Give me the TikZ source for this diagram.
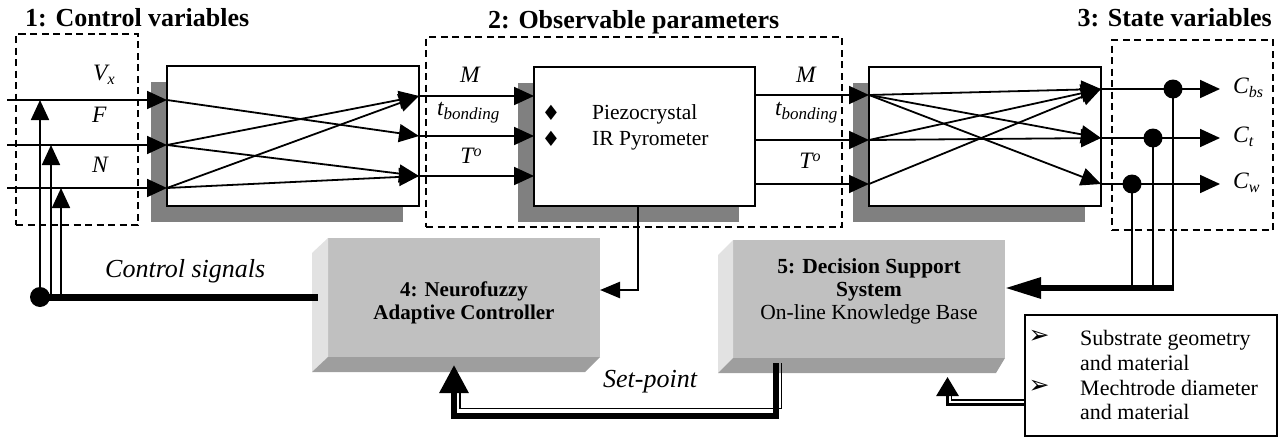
\documentclass[tikz,border=0pt]{standalone}
\usepackage{fontspec}
\setmainfont{Liberation Serif}
\newfontfamily\dejavu{DejaVu Sans}
\usetikzlibrary{arrows.meta,calc,shadows}
\definecolor{shadowgray}{RGB}{128,128,128}
\definecolor{frontgray}{RGB}{192,192,192}
\definecolor{leftgray}{RGB}{226,226,226}
\definecolor{bottomgray}{RGB}{158,158,158}
\newcommand{\fs}[1]{\fontsize{#1}{#1}\selectfont}
\newcommand{\sbs}[1]{\raisebox{-4pt}{\fs{16}\itshape #1}}
\begin{document}
\begin{tikzpicture}[x=1pt,y=-1pt,
  blk/.style={draw, line width=2pt, fill=white, inner sep=0pt, outer sep=0pt,
     general shadow={fill=shadowgray, shadow xshift=-16pt, shadow yshift=-16pt}},
  dbox/.style={draw, line width=1.8pt, dash pattern=on 7pt off 4.5pt, inner sep=0pt, outer sep=0pt},
  sig/.style={line width=1.8pt, -{Triangle[length=20pt,width=18pt]}},
  wire/.style={line width=1.8pt},
  front/.style={fill=frontgray, inner sep=0pt, outer sep=0pt},
  dot/.style={circle, fill=black, inner sep=0pt, minimum size=19pt},
  ttl/.style={font=\fs{26}\bfseries, inner sep=0pt, anchor=base west},
  lab/.style={font=\fs{23.5}\itshape, inner sep=0pt, anchor=base west},
  txt/.style={font=\fs{21.5}, inner sep=0pt, anchor=base west},
  itl/.style={font=\fs{26}\itshape, inner sep=0pt, anchor=base west},
  dia/.style={font=\dejavu\fs{21}, inner sep=0pt},
  bul/.style={font=\dejavu\fs{25}, inner sep=0pt},
]
\useasboundingbox (0,0) rectangle (1286,439);

% titles
\node[ttl] (t1) at (25,27) {1: Control variables};
\node[ttl] (t2) at (488,28) {2: Observable parameters};
\node[ttl, anchor=base east] (t3) at (1272,27) {3: State variables};

% dashed groups
\node[dbox, minimum width=122pt, minimum height=191pt] (g1) at (77,129.5) {};
\node[dbox, minimum width=416pt, minimum height=190pt] (g2) at (634,132) {};
\node[dbox, minimum width=161pt, minimum height=190pt] (g3) at (1192.5,135) {};

% blocks
\node[blk, minimum width=252pt, minimum height=140pt] (A) at (293,136) {};
\node[blk, minimum width=221pt, minimum height=139pt] (B) at (644.5,136.5) {};
\node[blk, minimum width=232pt, minimum height=139pt] (C) at (985,136.5) {};

% ports
\coordinate (inV) at (7,100);   \coordinate (inF) at (7,145);   \coordinate (inN) at (7,188);
\coordinate (a1) at (167,100);  \coordinate (a2) at (167,145);  \coordinate (a3) at (167,188);
\coordinate (ao1) at (419,96);  \coordinate (ao2) at (419,136); \coordinate (ao3) at (419,176);
\coordinate (b1) at (534,96);   \coordinate (b2) at (534,136);  \coordinate (b3) at (534,176);
\coordinate (bo1) at (755,95);  \coordinate (bo2) at (755,140); \coordinate (bo3) at (755,184);
\coordinate (c1) at (869,95);   \coordinate (c2) at (869,140);  \coordinate (c3) at (869,184);
\coordinate (co1) at (1101,89); \coordinate (co2) at (1101,138);\coordinate (co3) at (1101,184);
\coordinate (out1) at (1220,89);\coordinate (out2) at (1220,138);\coordinate (out3) at (1220,184);

% inputs
\draw[sig] (inV) -- (a1);
\draw[sig] (inF) -- (a2);
\draw[sig] (inN) -- (a3);
% block A crossings
\draw[sig] (a1) -- (ao2);
\draw[sig] (a2) -- (ao1);
\draw[sig] (a2) -- (ao3);
\draw[sig] (a3) -- (ao1);
\draw[sig] (a3) -- (ao3);
% A -> B
\draw[sig] (ao1) -- (b1);
\draw[sig] (ao2) -- (b2);
\draw[sig] (ao3) -- (b3);
% B -> C
\draw[sig] (bo1) -- (c1);
\draw[sig] (bo2) -- (c2);
\draw[sig] (bo3) -- (c3);
% block C crossings
\draw[sig] (c1) -- (co1);
\draw[sig] (c1) -- (co2);
\draw[sig] (c1) -- (co3);
\draw[sig] (c2) -- (co1);
\draw[sig] (c2) -- (co2);
\draw[sig] (c3) -- (co1);
% outputs
\draw[sig] (co1) -- (out1);
\draw[sig] (co2) -- (out2);
\draw[sig] (co3) -- (out3);

% labels left
\node[lab] (lV) at (93,80) {V\sbs{x}};
\node[lab] (lF) at (92,122) {F};
\node[lab] (lN) at (92,172) {N};
% labels B
\node[lab, anchor=base] (lM1) at (470,82) {M};
\node[lab] (lt1) at (437,115) {t\raisebox{-4pt}{\fs{17}\itshape bonding}};
\node[lab, anchor=base] (lT1) at (471,163) {T\raisebox{7pt}{\fs{16}\itshape o}};
\node[lab, anchor=base] (lM2) at (806,82) {M};
\node[lab] (lt2) at (775,115) {t\raisebox{-4pt}{\fs{17}\itshape bonding}};
\node[lab, anchor=base] (lT2) at (810,168) {T\raisebox{7pt}{\fs{16}\itshape o}};
% labels C
\node[lab] (lC1) at (1233,93) {C\sbs{bs}};
\node[lab] (lC2) at (1233,142) {C\sbs{t}};
\node[lab] (lC3) at (1233,188) {C\sbs{w}};

% block B text
\node[dia] (dm1) at (551,113) {♦};
\node[dia] (dm2) at (551,139) {♦};
\node[txt] (pz) at (592,119) {Piezocrystal};
\node[txt] (ir) at (592,145) {IR Pyrometer};

% 3D block 4
\node[front, minimum width=272pt, minimum height=119pt] (D4) at (464,297.5) {};
\fill[leftgray] (D4.north west) -- ++(-16,15) -- ($(D4.south west)+(-16,15)$) -- (D4.south west) -- cycle;
\fill[bottomgray] (D4.south west) -- (D4.south east) -- ++(-15,15) -- ($(D4.south west)+(-16,15)$) -- cycle;
\node[font=\fontsize{21}{23.5}\selectfont\bfseries, align=center, inner sep=0pt] (D4t) at (464,303) {4: Neurofuzzy\\Adaptive Controller};

% 3D block 5
\node[front, minimum width=272pt, minimum height=118pt] (D5) at (869,299) {};
\fill[leftgray] (D5.north west) -- ++(-15,15) -- ($(D5.south west)+(-15,15)$) -- (D5.south west) -- cycle;
\fill[bottomgray] (D5.south west) -- (D5.south east) -- ++(-9,15) -- ($(D5.south west)+(-15,15)$) -- cycle;
\node[font=\fontsize{21.5}{23}\selectfont, align=center, inner sep=0pt] (D5t) at (869,291) {\textbf{5: Decision Support}\\\textbf{System}\\On-line Knowledge Base};

% control signals
\coordinate (csc) at (40,297);
\coordinate (cse) at (318,297);
\coordinate (u1) at (40,100);
\coordinate (u2b) at (51,297); \coordinate (u2) at (51,145);
\coordinate (u3b) at (61,297); \coordinate (u3) at (61,188);
\draw[sig] (csc) -- (u1);
\draw[sig] (u2b) -- (u2);
\draw[sig] (u3b) -- (u3);
\draw[line width=7pt] (csc) -- (cse);
\node[dot, minimum size=20pt] (cs) at (csc) {};
\node[itl] (cstext) at (105,277) {Control signals};

% B -> controller
\coordinate (bd0) at (638,206);
\coordinate (bd1) at (638,290);
\draw[line width=2.5pt, -{Triangle[length=20pt,width=16pt]}] (bd0) -- (bd1) -- (D4.east |- bd1);

% state feedback
\coordinate (dc1) at (1173,89);  \coordinate (dc2) at (1153,138); \coordinate (dc3) at (1132,184);
\coordinate (fb1) at (1173,288); \coordinate (fb2) at (1153,288); \coordinate (fb3) at (1132,288);
\draw[line width=1.5pt] (dc1) -- (fb1);
\draw[line width=1.5pt] (dc2) -- (fb2);
\draw[line width=1.5pt] (dc3) -- (fb3);
\draw[line width=6pt, -{Triangle[length=36pt,width=20pt]}] ($(fb1)+(1,0)$) -- (D5.east |- fb1);
\node[dot] (d1) at (dc1) {};
\node[dot] (d2) at (dc2) {};
\node[dot] (d3) at (dc3) {};

% set-point
\coordinate (st0) at (781.5,363); \coordinate (st1) at (781.5,408.5);
\coordinate (st2) at (460,408.5); \coordinate (st3) at (460,392);
\coordinate (sp0) at (775.5,363); \coordinate (sp1) at (775.5,415.5);
\coordinate (sp2) at (454,415.5); \coordinate (sp3) at (454,365);
\draw[line width=1.5pt] (st0) -- (st1) -- (st2) -- (st3);
\draw[line width=6pt, -{Triangle[length=28pt,width=28pt]}] (sp0) -- (sp1) -- (sp2) -- (sp3);
\node[itl] (sptext) at (603,387) {Set-point};

% info box
\node[draw, line width=1.5pt, minimum width=252pt, minimum height=121pt, inner sep=0pt] (info) at (1151,375.5) {};
\node[bul] (bl1) at (1039,337) {➢};
\node[bul] (bl2) at (1039,387) {➢};
\node[txt, font=\fs{22}] (i1) at (1080,345) {Substrate geometry};
\node[txt, font=\fs{22}] (i2) at (1080,370) {and material};
\node[txt, font=\fs{22}] (i3) at (1080,395) {Mechtrode diameter};
\node[txt, font=\fs{22}] (i4) at (1080,419) {and material};
\coordinate (ia0) at (info.west |- 0,400); \coordinate (ia1) at (951.5,400); \coordinate (ia2) at (951.5,394);
\coordinate (ib0) at (info.west |- 0,404.5); \coordinate (ib1) at (947.5,404.5); \coordinate (ib2) at (947.5,377);
\draw[line width=1.2pt] (ia0) -- (ia1) -- (ia2);
\draw[line width=3pt, -{Triangle[length=19pt,width=22pt]}] (ib0) -- (ib1) -- (ib2);
\end{tikzpicture}
\end{document}
